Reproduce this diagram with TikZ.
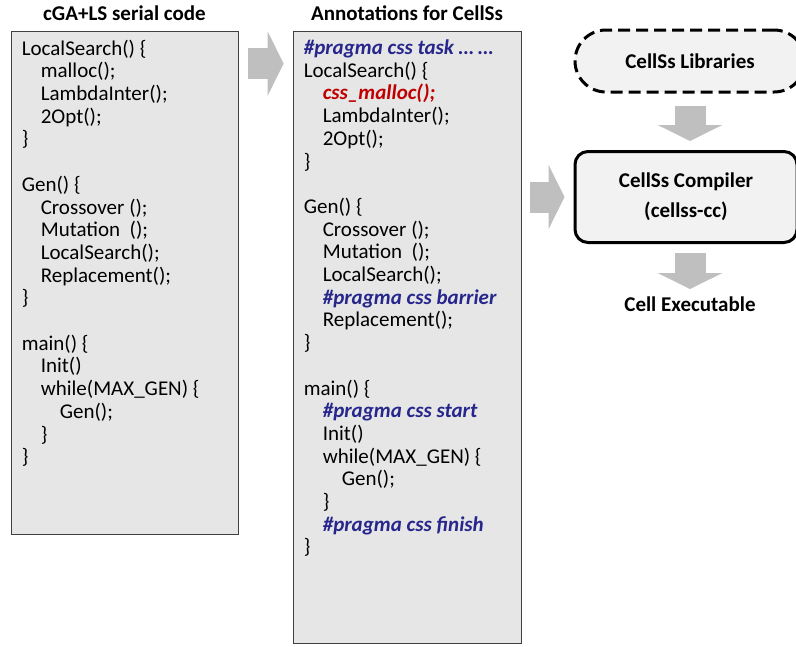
\documentclass[tikz,border=0pt]{standalone}
\usepackage{fontspec}
\setmainfont{Carlito}
\usetikzlibrary{arrows.meta,positioning}
\definecolor{boxgray}{RGB}{230,230,230}
\definecolor{lightbox}{RGB}{242,242,242}
\definecolor{arrowgray}{RGB}{191,191,191}
\definecolor{pragmablue}{RGB}{38,38,140}
\definecolor{mallocred}{RGB}{192,0,0}
\newcommand{\ind}{\hspace*{19pt}}
\newcommand{\pragma}[1]{{\color{pragmablue}\bfseries\itshape #1}}
\tikzset{
  codebox/.style={draw=black!75, fill=boxgray, line width=0.8pt, inner sep=0pt},
  codetext/.style={align=left, inner sep=0pt, anchor=north west, font=\fontsize{21}{22.7}\selectfont},
  title/.style={font=\fontsize{21}{24}\selectfont\bfseries},
  toolbox/.style={fill=lightbox, line width=3pt, align=center, font=\fontsize{21}{30}\selectfont\bfseries},
  blockarrow/.style={arrowgray, line width=31pt, -{Triangle[width=64pt,length=16pt]}}
}
\begin{document}
\begin{tikzpicture}[x=1pt,y=-1pt]
    \useasboundingbox (0,0) rectangle (796,646);
    % the two code listings
    \node[codebox, minimum width=227pt, minimum height=503pt] (serial) at (124.5,282.5) {};
    \node[codebox, minimum width=228pt, minimum height=612pt] (annot) at (407,337) {};
    \node[title] (serialtitle) at (124.5,13) {cGA+LS serial code};
    \node[title] (annottitle) at (407,13) {Annotations for CellSs};
    \node[codetext] (serialcode) at ([shift={(11pt,-9pt)}]serial.north west) {%
        LocalSearch() \{\\
        \ind malloc();\\
        \ind LambdaInter();\\
        \ind 2Opt();\\
        \}\\ \mbox{}\\
        Gen() \{\\
        \ind Crossover ();\\
        \ind Mutation\ \ ();\\
        \ind LocalSearch();\\
        \ind Replacement();\\
        \}\\ \mbox{}\\
        main() \{\\
        \ind Init()\\
        \ind while(MAX\_GEN) \{\\
        \ind\ind Gen();\\
        \ind \}\\
        \}};
    \node[codetext] (annotcode) at ([shift={(11pt,-9pt)}]annot.north west) {%
        \pragma{\#pragma css task … …}\\
        LocalSearch() \{\\
        \ind{\color{mallocred}\bfseries\itshape css\_malloc();}\\
        \ind LambdaInter();\\
        \ind 2Opt();\\
        \}\\ \mbox{}\\
        Gen() \{\\
        \ind Crossover ();\\
        \ind Mutation\ \ ();\\
        \ind LocalSearch();\\
        \ind\pragma{\#pragma css barrier}\\
        \ind Replacement();\\
        \}\\ \mbox{}\\
        main() \{\\
        \ind\pragma{\#pragma css start}\\
        \ind Init()\\
        \ind while(MAX\_GEN) \{\\
        \ind\ind Gen();\\
        \ind \}\\
        \ind\pragma{\#pragma css finish}\\
        \}};
    % compiler side
    \node[toolbox, draw, dashed, dash pattern=on 12pt off 6pt, rounded corners=31pt,
          minimum width=230pt, minimum height=62pt] (libs) at (690,61) {CellSs Libraries};
    \node[toolbox, draw, rounded corners=13pt, minimum width=222pt, minimum height=91pt]
          (compiler) at (686,197) {CellSs Compiler\\(cellss-cc)};
    \node[title] (exec) at (690,304) {Cell Executable};
    % block arrows
    \draw[blockarrow, shorten <=10pt, shorten >=9pt]
        ([yshift=-33pt]serial.north east) -- ([yshift=-33pt]annot.north west);
    \draw[blockarrow, shorten <=9pt, shorten >=9pt]
        (annot.east |- compiler.west) -- (compiler.west);
    \draw[blockarrow, shorten <=12pt, shorten >=9pt]
        (libs.south) -- (libs.south |- compiler.north);
    \draw[blockarrow, shorten <=9pt, shorten >=4pt]
        (libs.south |- compiler.south) -- (exec.north);
\end{tikzpicture}
\end{document}
